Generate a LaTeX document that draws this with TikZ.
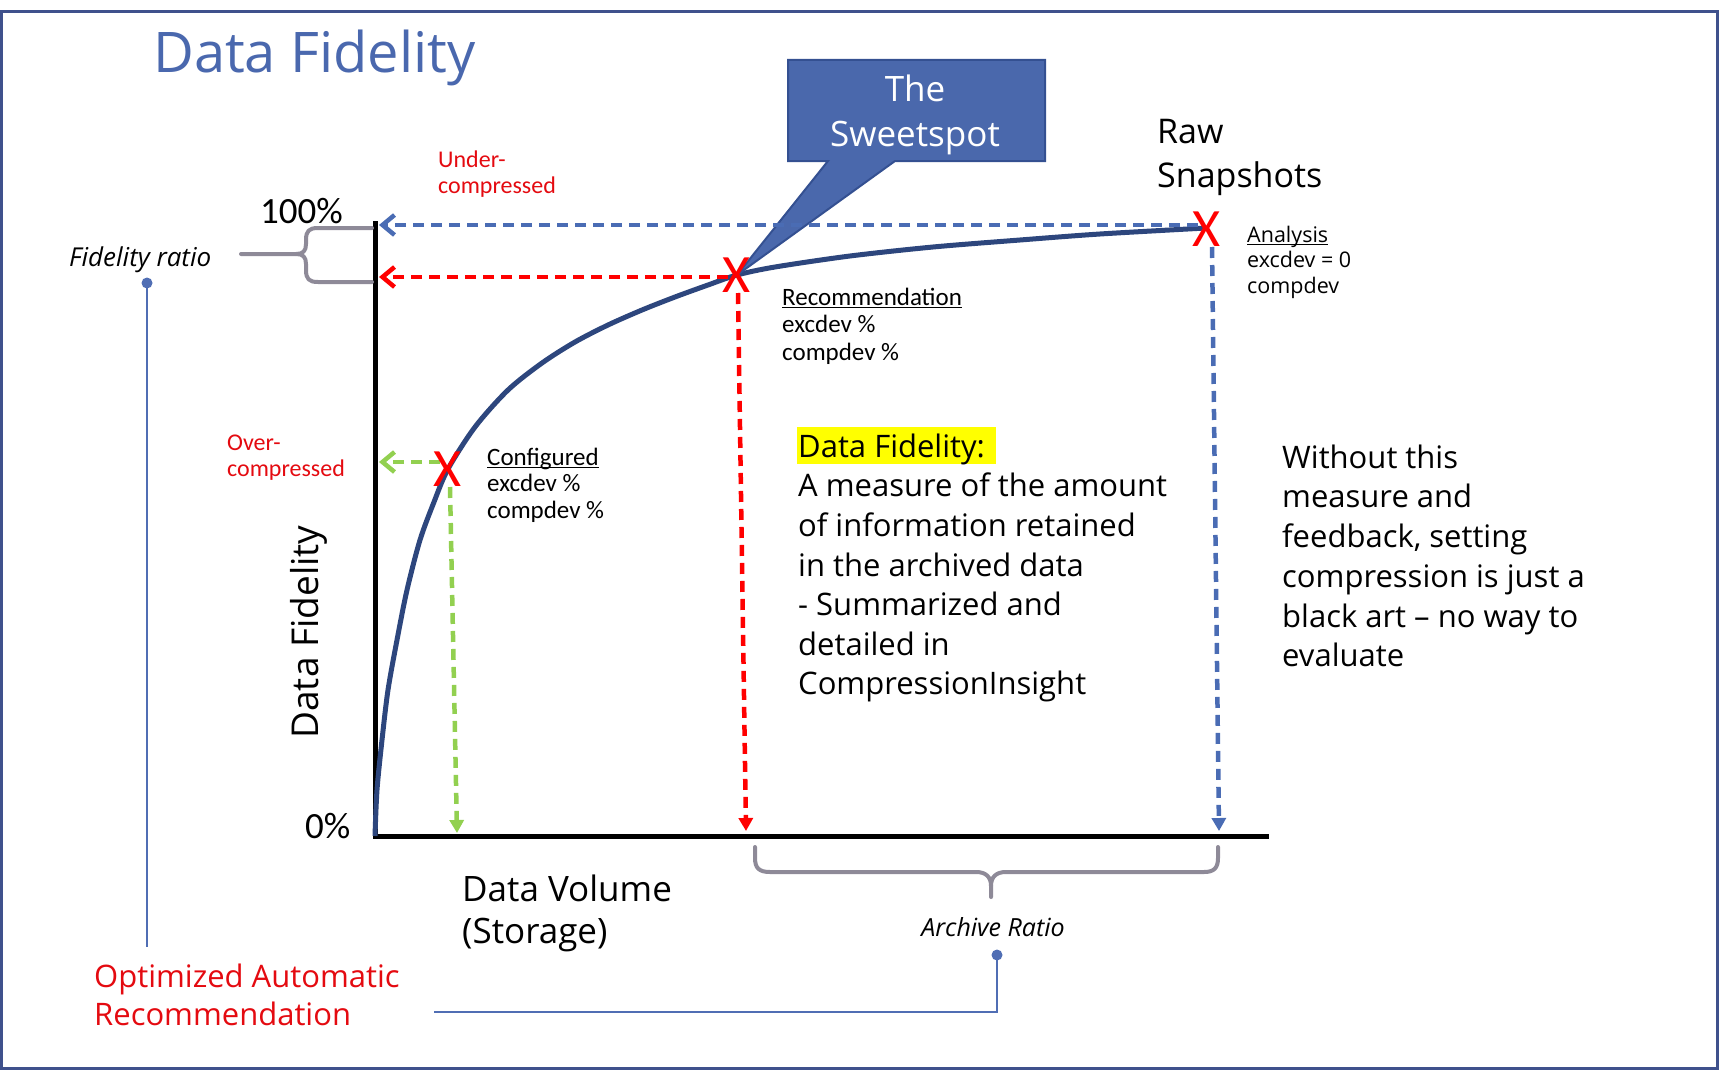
\documentclass[tikz,border=0pt]{standalone}
\usepackage{fontspec}
\setmainfont{Open Sans}
\newfontfamily\calfont{Carlito}
\usetikzlibrary{arrows.meta}
\newcommand\myfs[2]{\fontsize{#1}{#2}\selectfont}
\newcommand\mystrut[1]{\rule{0pt}{#1}}
\newcommand\myul[1]{\setbox0\hbox{#1}\rlap{\rule[-3pt]{\wd0}{1.4pt}}#1}
\definecolor{frameblue}{RGB}{63,81,140}
\definecolor{titleblue}{RGB}{74,104,174}
\definecolor{curvenavy}{RGB}{45,70,125}
\definecolor{dashblue}{RGB}{74,108,180}
\definecolor{ptred}{RGB}{255,0,0}
\definecolor{txtred}{RGB}{228,10,16}
\definecolor{ptgreen}{RGB}{146,208,80}
\definecolor{bracegray}{RGB}{142,138,152}
\definecolor{leaderblue}{RGB}{80,110,180}
\definecolor{calloutfill}{RGB}{74,104,172}
\definecolor{calloutdraw}{RGB}{52,80,145}
\definecolor{hilite}{RGB}{255,255,0}
\begin{document}
\begin{tikzpicture}[x=1pt,y=-1pt,
  lbl/.style={inner sep=0pt,anchor=base west},
  blk/.style={inner sep=0pt,anchor=north west,align=left},
  dl/.style={line width=4.5pt,dash pattern=on 11pt off 7pt},
  barb/.style={-{Straight Barb[length=12pt,width=20pt]}},
  tri/.style={-{Triangle[length=13pt,width=14pt]}},
  brace/.style={draw=bracegray,line width=4pt,line cap=round,line join=round},
  leader/.style={draw=leaderblue,line width=2pt},
  xm/.style={inner sep=0pt,text=ptred,font=\calfont\myfs{54}{54}},
  callout/.style={fill=calloutfill,draw=calloutdraw,line width=2pt,line join=miter}]
\useasboundingbox (0,0) rectangle (1720,1070);
\draw[frameblue,line width=3pt] (1.5,12) rectangle (1717.5,1068);

% title
\node[lbl,text=titleblue,font=\myfs{56}{56}] (title) at (153,73) {Data Fidelity};

% key coordinates
\coordinate (O) at (375,836);
\coordinate (ytop) at (375,221);
\coordinate (xend) at (1269,836);
\coordinate (pc) at (448,469);
\coordinate (pr) at (737,275);
\coordinate (pa) at (1206,229);

% highlight box
\fill[hilite] (797,427) rectangle (996,464);

% axes
\draw[line width=5pt,line join=miter] (ytop) -- (O) -- (xend);

% curve
\draw[curvenavy,line width=5pt] plot[smooth,tension=0.5] coordinates {(375,836) (377,790) (382,740) (388,690) (397,640) (407,590) (420,540) (434,502) (448,469) (475,427) (508,390) (542,363) (575,342) (608,325) (642,310) (675,297) (708,285) (737,275) (775,267) (850,256) (933,247) (1020,240) (1100,234) (1206,228)};

% callout
\draw[callout] (788,60) -- (1045,60) -- (1045,161) -- (895,161) -- (pr) -- (828,161) -- (788,161) -- cycle;
\node[inner sep=0pt,anchor=north,align=center,text=white,font=\myfs{35}{45}] (sweet) at (915,66) {\mystrut{35pt}The\\Sweetspot};

% dashed arrows
\coordinate (ah) at (1198,225); \coordinate (ya) at (379,225);
\coordinate (rh) at (728,277); \coordinate (yr) at (379,277);
\coordinate (ch) at (440,462); \coordinate (yc) at (379,462);
\coordinate (cv) at (450,487); \coordinate (bc) at (457,833);
\coordinate (rv) at (738,293); \coordinate (br) at (746,831);
\coordinate (av) at (1212,247); \coordinate (ba) at (1219,831);
\draw[dl,dashblue,barb] (ah) -- (ya);
\draw[dl,ptred,barb] (rh) -- (yr);
\draw[dl,ptgreen,barb] (ch) -- (yc);
\draw[dl,ptgreen,tri] (cv) -- (bc);
\draw[dl,ptred,tri] (rv) -- (br);
\draw[dl,dashblue,tri] (av) -- (ba);

% X marks
\node[xm] (xc) at (pc) {X};
\node[xm] (xr) at (pr) {X};
\node[xm] (xa) at (pa) {X};

% axis labels
\node[lbl,font=\calfont\myfs{37}{37}] (p100) at (260,223) {100\%};
\node[lbl,font=\calfont\myfs{37}{37}] (p0) at (305,838) {0\%};
\node[inner sep=0pt,anchor=base,rotate=90,font=\myfs{37}{37}] (ylab) at (318,632) {Data Fidelity};
\node[blk,font=\myfs{35}{42}] (xlab) at (462,866) {\mystrut{35pt}Data Volume\\(Storage)};

% red labels
\node[blk,text=txtred,font=\calfont\myfs{24}{26}] (under) at (438,143) {\mystrut{24pt}Under-\\compressed};
\node[blk,text=txtred,font=\calfont\myfs{24}{26}] (over) at (227,426) {\mystrut{24pt}Over-\\compressed};

% point labels
\node[blk,font=\calfont\myfs{25}{26.5}] (conf) at (487,440) {\mystrut{25pt}\myul{Configured}\\excdev \%\\compdev \%};
\node[blk,font=\calfont\myfs{25}{27.5}] (reco) at (782,280) {\mystrut{25pt}\myul{Recommendation}\\excdev \%\\compdev \%};
\node[blk,font=\myfs{21.5}{25.5}] (anal) at (1247,220.5) {\mystrut{21.5pt}\myul{Analysis}\\excdev = 0\\compdev};
\node[blk,font=\myfs{34}{44}] (raw) at (1157,109) {\mystrut{34pt}Raw\\Snapshots};

% text blocks
\node[blk,font=\myfs{31}{39.6}] (def) at (798,426) {\mystrut{31pt}Data Fidelity:\\A measure of the amount\\of information retained\\in the archived data\\- Summarized and\\detailed in\\CompressionInsight};
\node[blk,font=\myfs{31}{39.7}] (without) at (1282,437) {\mystrut{31pt}Without this\\measure and\\feedback, setting\\compression is just a\\black art – no way to\\evaluate};

% braces
\draw[brace] (372,228) -- (318,228) .. controls (309,228) and (306,231) .. (306,240) -- (306,244) .. controls (306,251) and (303,254) .. (296,254) -- (241,254);
\draw[brace] (296,254) .. controls (303,254) and (306,257) .. (306,264) -- (306,270) .. controls (306,279) and (309,282) .. (318,282) -- (372,282);
\draw[brace] (755,847) -- (755,858) .. controls (755,868) and (759,872) .. (770,872) -- (976,872) .. controls (986,872) and (991,877) .. (991,886) -- (991,897);
\draw[brace] (991,886) .. controls (991,877) and (996,872) .. (1006,872) -- (1204,872) .. controls (1214,872) and (1218,868) .. (1218,858) -- (1218,847);

% brace labels and leaders
\node[lbl,font=\itshape\myfs{26}{26}] (fr) at (69,266) {Fidelity ratio};
\node[inner sep=0pt,anchor=base,font=\itshape\myfs{25}{25}] (ar) at (993,936) {Archive Ratio};
\coordinate (fdot) at (147,283); \coordinate (fend) at (147,947);
\coordinate (adot) at (997,955); \coordinate (acorner) at (997,1012); \coordinate (aend) at (434,1012);
\fill[leaderblue] (fdot) circle (5.5);
\fill[leaderblue] (adot) circle (5.5);
\draw[leader] (fdot) -- (fend);
\draw[leader] (adot) -- (acorner) -- (aend);
\node[blk,text=txtred,font=\myfs{31}{38}] (opt) at (94,956) {\mystrut{31pt}Optimized Automatic\\Recommendation};
\end{tikzpicture}
\end{document}
